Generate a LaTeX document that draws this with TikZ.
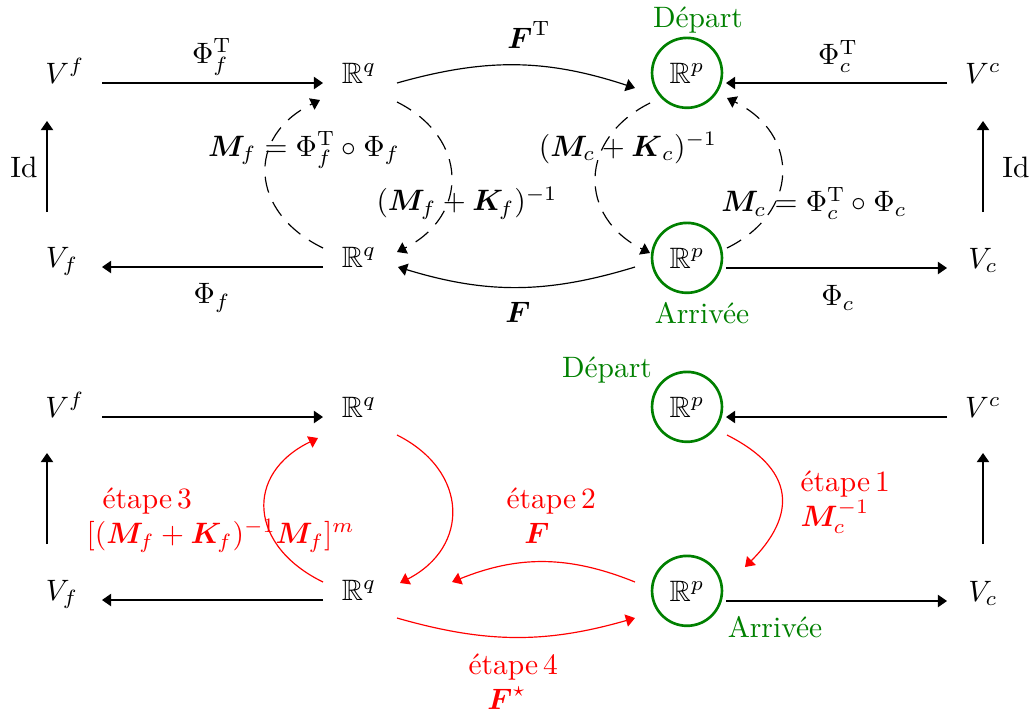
\documentclass[tikz,border=0pt]{standalone}
\usepackage{amsmath,amssymb}
\usetikzlibrary{arrows.meta}
\definecolor{dgreen}{RGB}{0,128,0}
\begin{document}
\begin{tikzpicture}[x=0.339pt,y=-0.339pt,
  txt/.style={inner sep=0pt, anchor=base},
  sp/.style={circle, draw=dgreen, line width=0.9pt, minimum size=23.7pt, inner sep=0pt, anchor=base},
  arr/.style={-{Triangle[length=3.1pt,width=4.2pt]}},
  dsh/.style={arr, dash pattern=on 5.5pt off 3.5pt},
  rarr/.style={arr, red},
  lab/.style={inner sep=0pt},
  grn/.style={text=dgreen, inner sep=0pt},
  rlab/.style={text=red, inner sep=0pt, align=left, anchor=north west},
  ]
\useasboundingbox (0,0) rectangle (1030,713);
% ---------- top diagram ----------
\node[txt] (vf) at (65,83) {$V^f$};
\node[txt] (rq1) at (359,83) {$\mathbb{R}^q$};
\node[sp] (rp1) at (687,83) {$\mathbb{R}^p$};
\node[txt] (vc) at (983,83) {$V^c$};
\node[txt] (vflow) at (62,267) {$V_f$};
\node[txt] (rq2) at (359,267) {$\mathbb{R}^q$};
\node[sp] (rp2) at (687,268) {$\mathbb{R}^p$};
\node[txt] (vclow) at (983,268) {$V_c$};

\node[lab] (id1) at (24,167) {Id};
\node[lab] (id2) at (1016,167) {Id};
\node[lab] (phift) at (212,57) {$\Phi_f^{\mathrm{T}}$};
\node[lab] (phif) at (212,298) {$\Phi_f$};
\node[lab] (phict) at (838,56) {$\Phi_c^{\mathrm{T}}$};
\node[lab] (phic) at (838,298) {$\Phi_c$};
\node[lab] (ft) at (529,35) {$\boldsymbol{F}^{\mathrm{T}}$};
\node[lab] (fl) at (518,312) {$\boldsymbol{F}$};
\node[grn] (dep1) at (698,20) {Départ};
\node[grn] (arr1) at (702,313) {Arrivée};
\node[lab] (mf) at (304,150) {$\boldsymbol{M}_{\!f}=\Phi_f^{\mathrm{T}}\circ\Phi_f$};
\node[lab] (mkf) at (467,203) {$(\boldsymbol{M}_{\!f}+\boldsymbol{K}_{\!f})^{-1}$};
\node[lab] (mkc) at (628,148) {$(\boldsymbol{M}_{\!c}+\boldsymbol{K}_c)^{-1}$};
\node[lab] (mc) at (814,203) {$\boldsymbol{M}_{\!c}=\Phi_c^{\mathrm{T}}\circ\Phi_c$};

\draw[arr] ([shift={(37,0)}]vf.base) -- ([shift={(-36,0)}]rq1.base);
\draw[arr] ([shift={(-36,0)}]vc.base) -- ([shift={(39,0)}]rp1.base);
\draw[arr] ([shift={(-36,0)}]rq2.base) -- ([shift={(40,0)}]vflow.base);
\draw[arr] ([shift={(39,0)}]rp2.base) -- ([shift={(-36,0)}]vclow.base);
\draw[arr] ([shift={(-15,-55)}]vflow.base) -- ([shift={(-18,38)}]vf.base);
\draw[arr] ([shift={(0,-56)}]vclow.base) -- ([shift={(0,38)}]vc.base);

\draw[arr] ([shift={(38,0)}]rq1.base) to[bend left=17] ([shift={(-52,5)}]rp1.base);
\draw[arr] ([shift={(-52,-1)}]rp2.base) to[bend left=17] ([shift={(39,0)}]rq2.base);

\draw[dsh] ([shift={(-36,-19)}]rq2.base) .. controls ([shift={(-110,-55)}]rq2.base) and ([shift={(-113,53)}]rq1.base) .. ([shift={(-39,17)}]rq1.base);
\draw[dsh] ([shift={(38,19)}]rq1.base) .. controls ([shift={(110,55)}]rq1.base) and ([shift={(110,-51)}]rq2.base) .. ([shift={(38,-15)}]rq2.base);
\draw[dsh] ([shift={(-37,20)}]rp1.base) .. controls ([shift={(-109,56)}]rp1.base) and ([shift={(-109,-51)}]rp2.base) .. ([shift={(-37,-15)}]rp2.base);
\draw[dsh] ([shift={(40,-20)}]rp2.base) .. controls ([shift={(113,-56)}]rp2.base) and ([shift={(113,51)}]rp1.base) .. ([shift={(40,15)}]rp1.base);

% ---------- bottom diagram ----------
\node[txt] (vf2) at (65,417) {$V^f$};
\node[txt] (rq3) at (359,417) {$\mathbb{R}^q$};
\node[sp] (rp3) at (687,417) {$\mathbb{R}^p$};
\node[txt] (vc2) at (983,417) {$V^c$};
\node[txt] (vflow2) at (62,600) {$V_f$};
\node[txt] (rq4) at (359,600) {$\mathbb{R}^q$};
\node[sp] (rp4) at (687,601) {$\mathbb{R}^p$};
\node[txt] (vclow2) at (983,601) {$V_c$};

\node[grn] (dep2) at (607,370) {Départ};
\node[grn] (arr2) at (775,627) {Arrivée};

\node[rlab] (e1) at (800,470) {étape\,1\\$\boldsymbol{M}_{\!c}^{-1}$};
\node[rlab] (e2) at (506,487) {étape\,2\\\hspace*{6pt}$\boldsymbol{F}$};
\node[rlab] (e3) at (86,487) {\hspace*{5.4pt}étape\,3\\$[(\boldsymbol{M}_{\!f}+\boldsymbol{K}_{\!f})^{-1}\boldsymbol{M}_{\!f}]^m$};
\node[rlab] (e4) at (468,653) {étape\,4\\\hspace*{6.4pt}$\boldsymbol{F}^{\star}$};

\draw[arr] ([shift={(37,0)}]vf2.base) -- ([shift={(-36,0)}]rq3.base);
\draw[arr] ([shift={(-36,0)}]vc2.base) -- ([shift={(39,0)}]rp3.base);
\draw[arr] ([shift={(-36,0)}]rq4.base) -- ([shift={(40,0)}]vflow2.base);
\draw[arr] ([shift={(39,0)}]rp4.base) -- ([shift={(-36,0)}]vclow2.base);
\draw[arr] ([shift={(-15,-56)}]vflow2.base) -- ([shift={(-18,36)}]vf2.base);
\draw[arr] ([shift={(0,-57)}]vclow2.base) -- ([shift={(0,36)}]vc2.base);

\draw[rarr] ([shift={(40,18)}]rp3.base) .. controls ([shift={(125,61)}]rp3.base) and ([shift={(95,-71)}]rp4.base) .. ([shift={(58,-34)}]rp4.base);
\draw[rarr] ([shift={(-52,-19)}]rp4.base) to[bend right=22] ([shift={(93,-18)}]rq4.base);
\draw[rarr] ([shift={(-36,-18)}]rq4.base) .. controls ([shift={(-110,-54)}]rq4.base) and ([shift={(-115,57)}]rq3.base) .. ([shift={(-41,21)}]rq3.base);
\draw[rarr] ([shift={(38,18)}]rq3.base) .. controls ([shift={(110,54)}]rq3.base) and ([shift={(111,-53)}]rq4.base) .. ([shift={(41,-17)}]rq4.base);
\draw[rarr] ([shift={(38,18)}]rq4.base) to[bend right=16] ([shift={(-52,17)}]rp4.base);
\end{tikzpicture}
\end{document}
